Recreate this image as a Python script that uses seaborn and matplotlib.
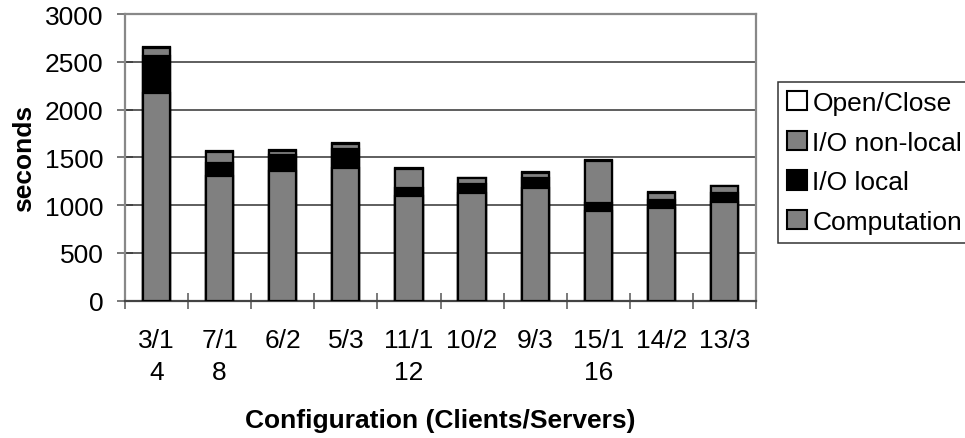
import numpy as np
import pandas as pd
import matplotlib
matplotlib.use("Agg")
import matplotlib.pyplot as plt
from matplotlib.patches import Patch
import seaborn as sns

# Configurations (clients/servers) and the total client count on the second line
configs = ["3/1", "7/1", "6/2", "5/3", "11/1", "10/2", "9/3", "15/1", "14/2", "13/3"]
client_totals = ["4", "8", "", "", "12", "", "", "16", "", ""]

# Time spent per phase, in seconds
computation = [2178, 1306, 1355, 1387, 1091, 1122, 1178, 937, 972, 1035]
io_local = [382, 130, 171, 201, 90, 97, 101, 81, 77, 87]
io_nonlocal = [88, 122, 45, 56, 199, 60, 62, 446, 80, 73]
open_close = [10, 10, 10, 10, 10, 10, 10, 10, 10, 10]

y_ticks = [0, 500, 1000, 1500, 2000, 2500, 3000]

sns.set_style("white")
plt.rcParams["font.family"] = ["Liberation Sans", "DejaVu Sans"]
plt.rcParams["text.color"] = "black"
plt.rcParams["axes.labelcolor"] = "black"
plt.rcParams["xtick.color"] = "black"
plt.rcParams["ytick.color"] = "black"

df = pd.DataFrame({
    "config": configs,
    "Computation": computation,
    "I/O local": io_local,
    "I/O non-local": io_nonlocal,
    "Open/Close": open_close,
})
df["c1"] = df["Computation"]
df["c2"] = df["c1"] + df["I/O local"]
df["c3"] = df["c2"] + df["I/O non-local"]
df["c4"] = df["c3"] + df["Open/Close"]

GRAY = "#808080"
FS = 19
fig = plt.figure(figsize=(9.65, 4.39), dpi=100)
ax = fig.add_axes([125 / 965, 1 - 301.7 / 439, (756 - 125) / 965, (301.7 - 15) / 439])

# stacked bars drawn as overlapping cumulative layers, tallest first
layers = [("c4", "white"), ("c3", GRAY), ("c2", "black"), ("c1", GRAY)]
for col, colr in layers:
    sns.barplot(data=df, x="config", y=col, order=configs, color=colr,
                saturation=1, width=0.43, edgecolor="black", linewidth=1.6,
                ax=ax, zorder=3, errorbar=None)

ax.set_xlim(-0.5, len(configs) - 0.5)
ax.set_ylim(0, 3000)
ax.set_yticks(y_ticks)
ax.set_yticklabels([str(v) for v in y_ticks], fontsize=FS)

for v in y_ticks[1:-1]:
    ax.axhline(v, color="#333333", linewidth=1.1, zorder=1)

ax.set_xticks(range(len(configs)))
labels = [c + ("\n" + t if t else "\n ") for c, t in zip(configs, client_totals)]
ax.set_xticklabels(labels, fontsize=FS, linespacing=1.4)
ax.set_xticks(np.arange(-0.5, len(configs)), minor=True)
ax.tick_params(axis="x", which="major", bottom=True, length=0, pad=20)
ax.tick_params(axis="x", which="minor", bottom=True, length=11, width=1.1,
               direction="inout", color="#555555")
ax.tick_params(axis="y", left=True, length=11, width=1.1, direction="inout",
               color="#555555", pad=10)

for side, sp in ax.spines.items():
    sp.set_visible(True)
    sp.set_linewidth(1.6)
    sp.set_color("#888888")
ax.spines["bottom"].set_color("#444444")

ax.set_xlabel("Configuration (Clients/Servers)", fontsize=FS, fontweight="bold",
              labelpad=17)
ax.set_ylabel("seconds", fontsize=FS, fontweight="bold", labelpad=6)

handles = [
    Patch(facecolor="white", edgecolor="black", linewidth=1.5, label="Open/Close"),
    Patch(facecolor=GRAY, edgecolor="black", linewidth=1.5, label="I/O non-local"),
    Patch(facecolor="black", edgecolor="black", linewidth=1.5, label="I/O local"),
    Patch(facecolor=GRAY, edgecolor="black", linewidth=1.5, label="Computation"),
]
leg = fig.legend(handles=handles, loc="upper left",
                 bbox_to_anchor=(778 / 965, 1 - 82.7 / 439), fontsize=FS,
                 frameon=True, fancybox=False, borderaxespad=0, borderpad=0.35,
                 handlelength=0.75, handleheight=0.75, handletextpad=0.2,
                 labelspacing=0.59)
leg.get_frame().set_edgecolor("black")
leg.get_frame().set_linewidth(1.1)

fig.savefig("out.png", dpi=100)
